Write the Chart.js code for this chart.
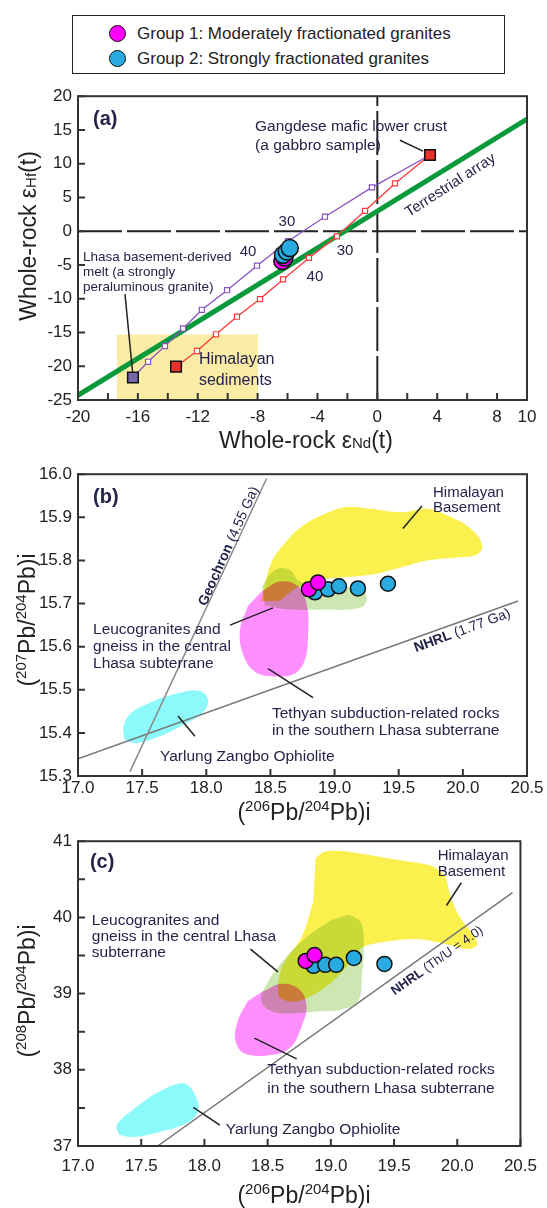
<!DOCTYPE html>
<html>
<head>
<meta charset="utf-8">
<script src="https://cdn.jsdelivr.net/npm/chart.js@4.4.1/dist/chart.umd.min.js"></script>
<style>
  body { margin: 0; background: #fff; width: 547px; height: 1208px; position: relative; overflow: hidden;
         font-family: "Liberation Sans", Arial, sans-serif; }
  canvas { position: absolute; left: 0; }
  #legend { position: absolute; left: 72px; top: 15px; width: 433px; height: 59px; box-sizing: border-box;
            border: 1.5px solid #222; }
  #legend .row { position: absolute; left: 36px; height: 20px; line-height: 20px; font-size: 17px; color: #222; }
  #legend .dot { position: absolute; left: 0; top: 1px; width: 15px; height: 15px; border-radius: 50%;
                 border: 1.5px solid #111; }
  #legend .row span.txt { position: absolute; left: 28px; white-space: nowrap; }
</style>
</head>
<body>
<div id="legend">
  <div class="row" style="top:8px"><span class="dot" style="background:#ff00ff"></span><span class="txt">Group 1: Moderately fractionated granites</span></div>
  <div class="row" style="top:33px"><span class="dot" style="background:#29abe2"></span><span class="txt">Group 2: Strongly fractionated granites</span></div>
</div>
<canvas id="chartA" width="547" height="375" style="top:80px"></canvas>
<canvas id="chartB" width="547" height="367" style="top:458px"></canvas>
<canvas id="chartC" width="547" height="383" style="top:825px"></canvas>
<script>
// ---------- panel (a): whole-rock eNd(t) vs eHf(t) ----------
const aXLabels = [-20, -16, -12, -8, -4, 0, 4, 8, 10];
const aYLabels = [-25, -20, -15, -10, -5, 0, 5, 10, 15, 20];

const terrestrialArray = [{x: -20, y: -24.3}, {x: 10, y: 16.6}];
const zeroX = [{x: 0, y: -25}, {x: 0, y: 20}];
const zeroY = [{x: -20, y: 0}, {x: 10, y: 0}];
const himalayaBox = [{x: -17.4, y: -25}, {x: -7.97, y: -25}, {x: -7.97, y: -15.3}, {x: -17.4, y: -15.3}];

// mixing: Lhasa basement melt -> Gangdese mafic lower crust
const lhasaMix = [
  {x: -16.33, y: -21.66}, {x: -15.32, y: -19.34}, {x: -14.19, y: -17.02}, {x: -12.98, y: -14.40},
  {x: -11.72, y: -11.64}, {x: -10.04, y: -8.74}, {x: -8.04, y: -5.11}, {x: -5.97, y: -1.48},
  {x: -3.50, y: 2.15}, {x: -0.36, y: 6.50}, {x: 3.52, y: 11.29}
];
// mixing: Himalayan sediments -> Gangdese mafic lower crust
const sedimentMix = [
  {x: -13.45, y: -20.06}, {x: -12.05, y: -17.74}, {x: -10.78, y: -15.27}, {x: -9.38, y: -12.66},
  {x: -7.84, y: -10.05}, {x: -6.30, y: -7.14}, {x: -4.57, y: -3.95}, {x: -2.70, y: -0.76},
  {x: -0.82, y: 3.02}, {x: 1.18, y: 7.08}, {x: 3.52, y: 11.29}
];
const gangdese = [{x: 3.52, y: 11.29}];
const lhasaMelt = [{x: -16.33, y: -21.66}];
const himalayanSed = [{x: -13.45, y: -20.06}];
const group1A = [{x: -6.35, y: -4.4}, {x: -6.2, y: -3.9}];
const group2A = [{x: -6.3, y: -3.5}, {x: -6.05, y: -3.0}, {x: -5.85, y: -2.5}];
const leaderGangdese = [{x: 1.51, y: 13.47}, {x: 3.05, y: 11.87}];
const leaderLhasa = [{x: -16.86, y: -9.32}, {x: -16.33, y: -21.37}];

// ---------- panels (b) and (c): Pb isotopes ----------
const pbXLabels = [17.0, 17.5, 18.0, 18.5, 19.0, 19.5, 20.0, 20.5];
const bYLabels = [15.3, 15.4, 15.5, 15.6, 15.7, 15.8, 15.9, 16.0];
const cYLabels = [37, 38, 39, 40, 41];

const geochron = [{x: 17.405, y: 15.31}, {x: 18.47, y: 15.99}];
const nhrlB = [{x: 17.0, y: 15.34}, {x: 20.43, y: 15.706}];
const basementB = [
  {x: 18.43, y: 15.706}, {x: 18.50, y: 15.79}, {x: 18.60, y: 15.836}, {x: 18.75, y: 15.88},
  {x: 18.94, y: 15.91}, {x: 19.10, y: 15.924}, {x: 19.28, y: 15.92}, {x: 19.53, y: 15.912},
  {x: 19.72, y: 15.92}, {x: 19.88, y: 15.904}, {x: 20.06, y: 15.874}, {x: 20.15, y: 15.836},
  {x: 20.11, y: 15.814}, {x: 19.95, y: 15.807}, {x: 19.72, y: 15.80}, {x: 19.53, y: 15.785},
  {x: 19.28, y: 15.767}, {x: 18.96, y: 15.758}, {x: 18.73, y: 15.74}, {x: 18.57, y: 15.706}
];
const centralB = [
  {x: 18.434, y: 15.740}, {x: 18.535, y: 15.778}, {x: 18.652, y: 15.778}, {x: 18.73, y: 15.751},
  {x: 18.964, y: 15.740}, {x: 19.198, y: 15.733}, {x: 19.252, y: 15.713}, {x: 19.198, y: 15.690},
  {x: 18.886, y: 15.686}, {x: 18.652, y: 15.686}, {x: 18.457, y: 15.695}
];
const tethyanB = [
  {x: 18.434, y: 15.7285}, {x: 18.574, y: 15.751}, {x: 18.715, y: 15.74}, {x: 18.785, y: 15.695},
  {x: 18.793, y: 15.6275}, {x: 18.77, y: 15.571}, {x: 18.69, y: 15.538}, {x: 18.535, y: 15.531},
  {x: 18.38, y: 15.542}, {x: 18.286, y: 15.583}, {x: 18.263, y: 15.639}, {x: 18.325, y: 15.695}
];
const ophioliteB = [
  {x: 17.351, y: 15.414}, {x: 17.405, y: 15.444}, {x: 17.561, y: 15.47}, {x: 17.795, y: 15.493},
  {x: 17.951, y: 15.497}, {x: 18.013, y: 15.477}, {x: 17.974, y: 15.448}, {x: 17.834, y: 15.421},
  {x: 17.639, y: 15.392}, {x: 17.444, y: 15.376}, {x: 17.359, y: 15.385}
];
const group1B = [{x: 18.80, y: 15.733}, {x: 18.871, y: 15.749}];
const group2B = [{x: 18.847, y: 15.726}, {x: 18.949, y: 15.733}, {x: 19.034, y: 15.740},
                 {x: 19.182, y: 15.735}, {x: 19.416, y: 15.746}];

const nhrlC = [{x: 17.63, y: 37.0}, {x: 20.437, y: 40.325}];
const basementC = [
  {x: 18.88, y: 40.78}, {x: 18.95, y: 40.860}, {x: 19.08, y: 40.872}, {x: 19.276, y: 40.825},
  {x: 19.533, y: 40.753}, {x: 19.798, y: 40.675}, {x: 19.900, y: 40.545}, {x: 19.954, y: 40.234},
  {x: 20.032, y: 39.974}, {x: 20.133, y: 39.766}, {x: 20.157, y: 39.636}, {x: 20.079, y: 39.584},
  {x: 19.954, y: 39.636}, {x: 19.689, y: 39.714}, {x: 19.409, y: 39.675}, {x: 19.253, y: 39.610},
  {x: 19.159, y: 39.416}, {x: 18.964, y: 39.091}, {x: 18.730, y: 38.896}, {x: 18.590, y: 38.961},
  {x: 18.614, y: 39.351}, {x: 18.769, y: 39.740}, {x: 18.860, y: 40.195}
];
const centralC = [
  {x: 19.144, y: 40.039}, {x: 19.237, y: 39.935}, {x: 19.261, y: 39.610}, {x: 19.245, y: 39.221},
  {x: 19.214, y: 38.896}, {x: 19.081, y: 38.792}, {x: 18.886, y: 38.766}, {x: 18.691, y: 38.740},
  {x: 18.536, y: 38.766}, {x: 18.450, y: 38.896}, {x: 18.481, y: 39.091}, {x: 18.614, y: 39.416},
  {x: 18.808, y: 39.740}, {x: 19.003, y: 39.961}
];
const tethyanC = [
  {x: 18.458, y: 39.026}, {x: 18.614, y: 39.130}, {x: 18.754, y: 39.052}, {x: 18.808, y: 38.831},
  {x: 18.769, y: 38.571}, {x: 18.691, y: 38.312}, {x: 18.575, y: 38.208}, {x: 18.325, y: 38.208},
  {x: 18.247, y: 38.377}, {x: 18.263, y: 38.636}, {x: 18.341, y: 38.896}
];
const ophioliteC = [
  {x: 17.304, y: 37.234}, {x: 17.312, y: 37.299}, {x: 17.429, y: 37.468}, {x: 17.616, y: 37.688},
  {x: 17.795, y: 37.818}, {x: 17.873, y: 37.792}, {x: 17.935, y: 37.636}, {x: 17.951, y: 37.468},
  {x: 17.873, y: 37.312}, {x: 17.639, y: 37.182}, {x: 17.429, y: 37.117}, {x: 17.327, y: 37.143}
];
const group1C = [{x: 18.801, y: 39.429}, {x: 18.871, y: 39.506}];
const group2C = [{x: 18.863, y: 39.364}, {x: 18.956, y: 39.377}, {x: 19.042, y: 39.377},
                 {x: 19.182, y: 39.468}, {x: 19.424, y: 39.390}];

const leadersB = [
  [{x: 19.533, y: 15.874}, {x: 19.681, y: 15.926}],
  [{x: 18.185, y: 15.65}, {x: 18.52, y: 15.69}],
  [{x: 18.481, y: 15.549}, {x: 18.832, y: 15.482}],
  [{x: 17.779, y: 15.439}, {x: 17.912, y: 15.392}]
];
const leadersC = [
  [{x: 20.032, y: 40.455}, {x: 19.915, y: 40.156}],
  [{x: 18.364, y: 39.584}, {x: 18.582, y: 39.286}],
  [{x: 18.395, y: 38.416}, {x: 18.73, y: 38.143}],
  [{x: 17.912, y: 37.506}, {x: 18.122, y: 37.273}]
];

// ---------- styling helpers ----------
const FONT = '"Liberation Sans", Arial, sans-serif';
const NOTE = '#24244a';
const MAGENTA = '#ff00ff', BLUE = '#29abe2';

function font(size, bold) { return (bold ? 'bold ' : '') + size + 'px ' + FONT; }

function tickCb(labels, dec) {
  return v => {
    const hit = labels.find(l => Math.abs(l - v) < 1e-6);
    return hit === undefined ? '' : hit.toFixed(dec);
  };
}

function axis(labels, step, dec, pad, size, isX) {
  return {
    type: 'linear', min: labels[0], max: labels[labels.length - 1],
    grid: {display: false, drawTicks: false},
    border: {display: false},
    ticks: {stepSize: step, autoSkip: false, maxRotation: 0, padding: pad, color: '#222',
            font: {family: FONT, size: 17}, callback: tickCb(labels, dec)},
    afterFit: s => { if (isX) s.height = size; else s.width = size; }
  };
}

function points(data, color, r, order) {
  return {data, showLine: false, pointRadius: r, pointBackgroundColor: color,
          pointBorderColor: '#111', pointBorderWidth: 1.5, order};
}
function segment(data, color, width, order, dash) {
  return {data, showLine: true, borderColor: color, borderWidth: width, borderDash: dash || [],
          pointRadius: 0, fill: false, order};
}
function blob(data, color, order, tension) {
  return {data, showLine: true, borderWidth: 0, borderColor: 'rgba(0,0,0,0)', backgroundColor: color,
          fill: 'shape', tension: tension === undefined ? 0.4 : tension, pointRadius: 0, order};
}
function mixLine(data, color, order) {
  return {data, showLine: true, borderColor: color, borderWidth: 1.3, pointStyle: 'rect', pointRadius: 3.6,
          pointBackgroundColor: '#fff', pointBorderColor: color, pointBorderWidth: 1.2, order};
}
function member(data, color, order) {
  return {data, showLine: false, pointStyle: 'rect', pointRadius: 7.5, pointBackgroundColor: color,
          pointBorderColor: '#111', pointBorderWidth: 1.5, order};
}

function drawParts(ctx, parts, x, y, align) {
  let w = 0;
  parts.forEach(p => { ctx.font = font(p.s, p.b); p.w = ctx.measureText(p.t).width; w += p.w; });
  let cx = align === 'center' ? x - w / 2 : x;
  parts.forEach(p => { ctx.font = font(p.s, p.b); ctx.fillText(p.t, cx, y + (p.dy || 0)); cx += p.w; });
}

function framePlugin(notes, titles) {
  return {
    id: 'frame',
    beforeRender(chart) { chart.ctx.globalCompositeOperation = 'multiply'; },
    beforeDraw(chart) { chart.ctx.globalCompositeOperation = 'source-over'; },
    afterDraw(chart) {
      const {ctx, chartArea: a, scales: {x, y}} = chart;
      ctx.save();
      ctx.strokeStyle = '#333';
      ctx.lineWidth = 2;
      ctx.strokeRect(a.left, a.top, a.right - a.left, a.bottom - a.top);
      ctx.beginPath();
      x.ticks.forEach(t => { const p = x.getPixelForValue(t.value); ctx.moveTo(p, a.bottom); ctx.lineTo(p, a.bottom - 7); });
      y.ticks.forEach(t => { const p = y.getPixelForValue(t.value); ctx.moveTo(a.left, p); ctx.lineTo(a.left + 7, p); });
      ctx.stroke();

      ctx.fillStyle = NOTE;
      ctx.textBaseline = 'alphabetic';
      notes.forEach(n => {
        const px = x.getPixelForValue(n.x), py = y.getPixelForValue(n.y);
        if (n.rot !== undefined) {
          ctx.save();
          ctx.translate(px, py);
          ctx.rotate(n.rot * Math.PI / 180);
          drawParts(ctx, n.parts, 0, n.parts[0].s * 0.35, 'center');
          ctx.restore();
        } else {
          (n.lines).forEach((line, i) => {
            drawParts(ctx, [{t: line, s: n.size, b: n.bold}], px, py + i * (n.lh || 0) + n.size * 0.35,
                      n.align || 'left');
          });
        }
      });

      ctx.fillStyle = '#222';
      ctx.save();
      ctx.translate(titles.yx, titles.yy);
      ctx.rotate(-Math.PI / 2);
      drawParts(ctx, titles.y, 0, 8, 'center');
      ctx.restore();
      drawParts(ctx, titles.x, titles.xx, titles.xy, 'center');
      ctx.restore();
    }
  };
}

function baseOptions(padding, xAxis, yAxis) {
  return {
    responsive: false, animation: false, events: [],
    layout: {padding},
    plugins: {legend: {display: false}, tooltip: {enabled: false}, filler: {drawTime: 'beforeDraw'}},
    scales: {x: xAxis, y: yAxis}
  };
}

const pbTitle = n => [{t: '(', s: 23}, {t: n, s: 15, dy: -9}, {t: 'Pb/', s: 23}, {t: '204', s: 15, dy: -9},
                      {t: 'Pb)i', s: 23}];

// ---------- chart (a) ----------
new Chart(document.getElementById('chartA'), {
  type: 'scatter',
  data: {datasets: [
    points(group2A, BLUE, 8.5, 0),
    points(group1A, MAGENTA, 8.5, 1),
    member(gangdese, '#e8322e', 2),
    member(lhasaMelt, '#7566a6', 2),
    member(himalayanSed, '#e8322e', 2),
    mixLine(lhasaMix, '#8a52c2', 3),
    mixLine(sedimentMix, '#ff3a3a', 3),
    segment(leaderGangdese, '#222', 1.5, 4),
    segment(leaderLhasa, '#222', 1.5, 4),
    segment(terrestrialArray, '#0a9a3c', 5, 5),
    segment(zeroX, '#222', 2, 6, [44, 5]),
    segment(zeroY, '#222', 2, 6, [44, 5]),
    blob(himalayaBox, 'rgb(250,236,165)', 9, 0)
  ]},
  options: baseOptions({top: 10, right: 20, left: 0, bottom: 0},
    axis(aXLabels, 2, 0, 7, 55, true), axis(aYLabels, 5, 0, 6, 78, false)),
  plugins: [framePlugin([
    {x: -19.0, y: 16.8, lines: ['(a)'], size: 20, bold: true},
    {x: -8.17, y: 15.65, lines: ['Gangdese mafic lower crust', '(a gabbro sample)'], size: 15.5, lh: 19},
    {x: 4.85, y: 6.94, rot: -33, parts: [{t: 'Terrestrial array', s: 15}]},
    {x: -6.04, y: 1.56, lines: ['30'], size: 15, align: 'center'},
    {x: -8.64, y: -2.93, lines: ['40'], size: 15, align: 'center'},
    {x: -2.16, y: -2.79, lines: ['30'], size: 15, align: 'center'},
    {x: -4.17, y: -6.56, lines: ['40'], size: 15, align: 'center'},
    {x: -19.67, y: -3.66, lines: ['Lhasa basement-derived', 'melt (a strongly', 'peraluminous granite)'], size: 13.5, lh: 15},
    {x: -11.92, y: -18.9, lines: ['Himalayan', 'sediments'], size: 16, lh: 21}
  ], {
    y: [{t: 'Whole-rock ε', s: 23}, {t: 'Hf', s: 15}, {t: '(t)', s: 23}], yx: 28, yy: 156,
    x: [{t: 'Whole-rock ε', s: 23}, {t: 'Nd', s: 15}, {t: '(t)', s: 23}], xx: 306, xy: 368
  })]
});

// ---------- chart (b) ----------
new Chart(document.getElementById('chartB'), {
  type: 'scatter',
  data: {datasets: [
    points(group1B, MAGENTA, 7.5, 0),
    points(group2B, BLUE, 7.5, 1),
    ...leadersB.map(l => segment(l, '#222', 1.5, 2)),
    segment(geochron, '#8a8a8a', 1.5, 3),
    segment(nhrlB, '#777', 1.5, 3),
    blob(basementB, 'rgb(250,240,78)', 9),
    blob(centralB, 'rgba(200,228,170,0.9)', 9),
    blob(tethyanB, 'rgba(255,128,255,0.88)', 9),
    blob(ophioliteB, 'rgb(140,250,250)', 9)
  ]},
  options: baseOptions({top: 6, right: 20, left: 0, bottom: 0},
    axis(pbXLabels, 0.5, 1, 2, 49, true), axis(bYLabels, 0.1, 1, 6, 78, false)),
  plugins: [framePlugin([
    {x: 17.117, y: 15.950, lines: ['(b)'], size: 20, bold: true},
    {x: 19.767, y: 15.96, lines: ['Himalayan', 'Basement'], size: 15, lh: 15},
    {x: 17.117, y: 15.643, lines: ['Leucogranites and', 'gneiss in the central', 'Lhasa subterrane'], size: 15.5, lh: 17},
    {x: 18.512, y: 15.448, lines: ['Tethyan subduction-related rocks', 'in the southern Lhasa subterrane'], size: 15.5, lh: 17},
    {x: 17.639, y: 15.347, lines: ['Yarlung Zangbo Ophiolite'], size: 15.5},
    {x: 18.169, y: 15.834, rot: -65.8, parts: [{t: 'Geochron ', s: 14, b: true}, {t: '(4.55 Ga)', s: 14}]},
    {x: 19.993, y: 15.639, rot: -20.4, parts: [{t: 'NHRL ', s: 14, b: true}, {t: '(1.77 Ga)', s: 14}]}
  ], {
    y: pbTitle('207'), yx: 27, yy: 162,
    x: pbTitle('206'), xx: 304, xy: 362
  })]
});

// ---------- chart (c) ----------
new Chart(document.getElementById('chartC'), {
  type: 'scatter',
  data: {datasets: [
    points(group1C, MAGENTA, 7.5, 0),
    points(group2C, BLUE, 7.5, 1),
    ...leadersC.map(l => segment(l, '#222', 1.5, 2)),
    segment(nhrlC, '#777', 1.5, 3),
    blob(basementC, 'rgb(250,240,78)', 9, 0.3),
    blob(centralC, 'rgba(200,228,170,0.9)', 9),
    blob(tethyanC, 'rgba(255,128,255,0.88)', 9),
    blob(ophioliteC, 'rgb(140,250,250)', 9)
  ]},
  options: baseOptions({top: 13, right: 20, left: 0, bottom: 0},
    axis(pbXLabels, 0.5, 1, 10, 62, true), axis(cYLabels, 0.5, 0, 6, 78, false)),
  plugins: [framePlugin([
    {x: 17.094, y: 40.74, lines: ['(c)'], size: 20, bold: true},
    {x: 19.845, y: 40.818, lines: ['Himalayan', 'Basement'], size: 15, lh: 16},
    {x: 17.109, y: 39.974, lines: ['Leucogranites and', 'gneiss in the central Lhasa', 'subterrane'], size: 15.5, lh: 16},
    {x: 18.497, y: 38.013, lines: ['Tethyan subduction-related rocks', 'in the southern Lhasa subterrane'], size: 15.5, lh: 19},
    {x: 18.169, y: 37.234, lines: ['Yarlung Zangbo Ophiolite'], size: 15.5},
    {x: 19.837, y: 39.44, rot: -35.4, parts: [{t: 'NHRL ', s: 13, b: true}, {t: '(Th/U = 4.0)', s: 13}]}
  ], {
    y: pbTitle('208'), yx: 27, yy: 166,
    x: pbTitle('206'), xx: 304, xy: 378
  })]
});
</script>
</body>
</html>
